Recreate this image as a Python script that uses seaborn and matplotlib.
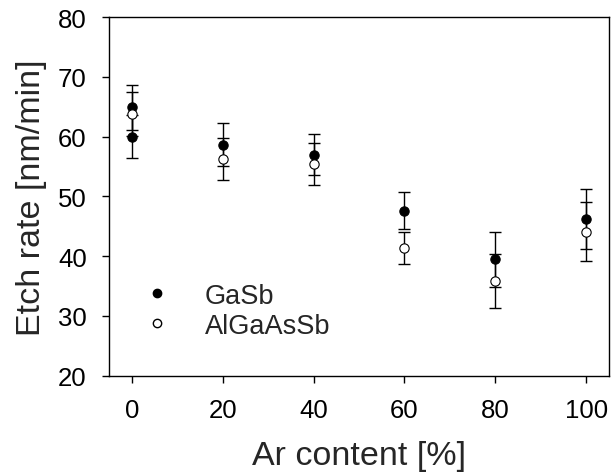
import matplotlib
matplotlib.use("Agg")
import matplotlib.pyplot as plt
import seaborn as sns
import pandas as pd
from matplotlib.lines import Line2D

# Data
gasb_x = [0, 0, 20, 40, 60, 80, 100]
gasb_y = [64.9, 60.0, 58.6, 57.0, 47.6, 39.5, 46.2]
gasb_err = [3.8, 3.6, 3.6, 3.5, 3.1, 4.6, 5.0]

algaassb_x = [0, 20, 40, 60, 80, 100]
algaassb_y = [63.8, 56.3, 55.4, 41.4, 35.8, 44.1]
algaassb_err = [3.7, 3.5, 3.5, 2.7, 4.5, 4.9]

x_ticks = [0, 20, 40, 60, 80, 100]
y_ticks = [20, 30, 40, 50, 60, 70, 80]

sns.set_style("ticks")
plt.rcParams['font.family'] = ['Liberation Sans', 'DejaVu Sans']

fig = plt.figure(figsize=(6.11, 4.77), dpi=100)
ax = fig.add_axes([109/611, 1-376.7/477, 500/611, 358.7/477])

df_g = pd.DataFrame({'x': gasb_x, 'y': gasb_y})
df_a = pd.DataFrame({'x': algaassb_x, 'y': algaassb_y})

ax.errorbar(gasb_x, gasb_y, yerr=gasb_err, fmt='none', ecolor='black',
            elinewidth=1.0, capsize=4.3, capthick=1.0, zorder=2)
ax.errorbar(algaassb_x, algaassb_y, yerr=algaassb_err, fmt='none', ecolor='black',
            elinewidth=1.0, capsize=4.3, capthick=1.0, zorder=2)

sns.scatterplot(data=df_g, x='x', y='y', ax=ax, marker='o', s=45,
                color='black', edgecolor='black', linewidth=0.8, zorder=3)
sns.scatterplot(data=df_a, x='x', y='y', ax=ax, marker='o', s=45,
                color='white', edgecolor='black', linewidth=0.8, zorder=4)

ax.set_xlim(-5, 105)
ax.set_ylim(20, 80)
ax.set_xticks(x_ticks)
ax.set_yticks(y_ticks)
ax.tick_params(axis='both', labelsize=18.5, length=5, width=1, direction='out',
               color='black', labelcolor='black', pad=11)
for s in ax.spines.values():
    s.set_color('black')
    s.set_linewidth(1.0)

ax.set_xlabel('Ar content [%]', fontsize=24.5, labelpad=13)
ax.set_ylabel('Etch rate [nm/min]', fontsize=24.5, labelpad=8)

handles = [
    Line2D([], [], marker='o', linestyle='none', markersize=6,
           markerfacecolor='black', markeredgecolor='black', label='GaSb'),
    Line2D([], [], marker='o', linestyle='none', markersize=6,
           markerfacecolor='white', markeredgecolor='black', label='AlGaAsSb'),
]
ax.legend(handles=handles, loc='upper left', bbox_to_anchor=(0.02, 0.29),
          frameon=False, fontsize=19.5, handlelength=2.0, handletextpad=0.78,
          labelspacing=0.15, borderaxespad=0)

fig.savefig('out.png', dpi=100)
